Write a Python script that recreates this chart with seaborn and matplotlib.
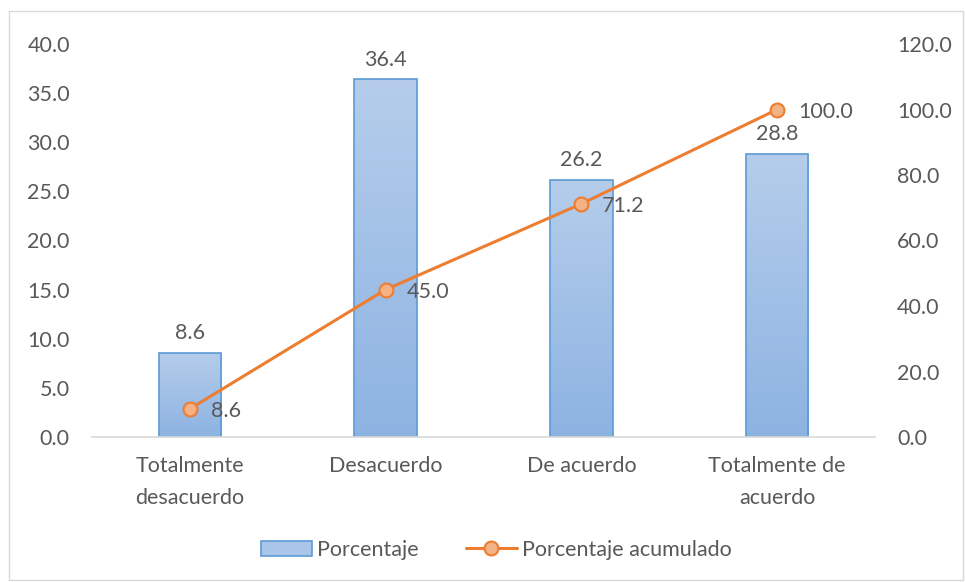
import numpy as np
import pandas as pd
import matplotlib
matplotlib.use("Agg")
import matplotlib.pyplot as plt
import seaborn as sns
from matplotlib.patches import Rectangle, Patch
from matplotlib.lines import Line2D
from matplotlib.colors import LinearSegmentedColormap

categories = ["Totalmente\ndesacuerdo", "Desacuerdo", "De acuerdo", "Totalmente de\nacuerdo"]
porcentaje = [8.6, 36.4, 26.2, 28.8]
acumulado = [8.6, 45.0, 71.2, 100.0]
left_ticks = [0, 5, 10, 15, 20, 25, 30, 35, 40]
right_ticks = [0, 20, 40, 60, 80, 100, 120]

sns.set_style("white")
plt.rcParams['font.family'] = ['Lato', 'DejaVu Sans']

TXT = "#595959"
BLUE_EDGE = "#5B9BD5"
ORANGE = "#ED7D31"
SALMON = "#F4B183"
FS = 15.5

fig = plt.figure(figsize=(9.65, 5.82), dpi=100)
ax = fig.add_axes([92/965, 1-437/582, (875-92)/965, (437-44)/582])

df = pd.DataFrame({"cat": categories, "pct": porcentaje})
sns.barplot(data=df, x="cat", y="pct", ax=ax, width=0.32, color="#A9C6EA",
            edgecolor=BLUE_EDGE, linewidth=1.2, zorder=2)

cmap = LinearSegmentedColormap.from_list("g", ["#B5CDEB", "#8DB3E2"])
grad = np.linspace(0, 1, 256).reshape(-1, 1)
for p in ax.patches:
    x0, y0 = p.get_x(), p.get_y()
    w, h = p.get_width(), p.get_height()
    im = ax.imshow(grad, cmap=cmap, aspect="auto", extent=[x0, x0 + w, y0, y0 + h],
                   origin="upper", zorder=2.1)
    im.set_clip_path(p)
    p.set_facecolor("none")
    p.set_zorder(2.2)

ax.set_xlim(-0.5, 3.5)
ax.set_ylim(0, 40)
ax.set_yticks(left_ticks)
ax.set_yticklabels([f"{v:.1f}" for v in left_ticks])
ax.set_xlabel("")
ax.set_ylabel("")
ax.tick_params(axis="y", length=0, pad=16, labelsize=FS, labelcolor=TXT)
ax.tick_params(axis="x", length=0, pad=14, labelsize=FS, labelcolor=TXT)
for lbl in ax.get_xticklabels():
    lbl.set_linespacing(1.75)
for s in ["left", "right", "top"]:
    ax.spines[s].set_visible(False)
ax.spines["bottom"].set_color("#D9D9D9")
ax.spines["bottom"].set_linewidth(1.2)

for i, v in enumerate(porcentaje):
    ax.annotate(f"{v:.1f}", (i, v), xytext=(0, 7), textcoords="offset points",
                ha="center", va="bottom", fontsize=FS, color=TXT)

ax2 = ax.twinx()
ldf = pd.DataFrame({"x": np.arange(len(categories)), "acum": acumulado})
sns.lineplot(data=ldf, x="x", y="acum", ax=ax2, color=ORANGE, linewidth=2.2,
             marker="o", markersize=10, markerfacecolor=SALMON,
             markeredgecolor=ORANGE, markeredgewidth=1.5, zorder=5)
ax2.set_ylim(0, 120)
ax2.set_yticks(right_ticks)
ax2.set_yticklabels([f"{v:.1f}" for v in right_ticks])
ax2.set_ylabel("")
ax2.set_xlabel("")
ax2.tick_params(axis="y", length=0, pad=16, labelsize=FS, labelcolor=TXT)
for s in ["left", "right", "top", "bottom"]:
    ax2.spines[s].set_visible(False)
ax2.set_xlim(-0.5, 3.5)

for i, v in enumerate(acumulado):
    ax2.annotate(f"{v:.1f}", (i, v), xytext=(15, -1.5), textcoords="offset points",
                 ha="left", va="center", fontsize=FS, color=TXT)

handles = [Patch(facecolor="#A9C6EA", edgecolor=BLUE_EDGE, linewidth=1.2),
           Line2D([0], [0], color=ORANGE, linewidth=2.2, marker="o", markersize=10,
                  markerfacecolor=SALMON, markeredgecolor=ORANGE, markeredgewidth=1.5)]
fig.legend(handles, ["Porcentaje", "Porcentaje acumulado"], loc="center",
           bbox_to_anchor=(496/965, 1-550/582), ncol=2, frameon=False,
           fontsize=FS, labelcolor=TXT, handlelength=2.4, handletextpad=0.2,
           columnspacing=2.2)

fig.patches.append(Rectangle((9/965, 2/582), 954/965, 569/582, transform=fig.transFigure,
                             fill=False, edgecolor="#D9D9D9", linewidth=1))

fig.savefig("out.png", dpi=100)
